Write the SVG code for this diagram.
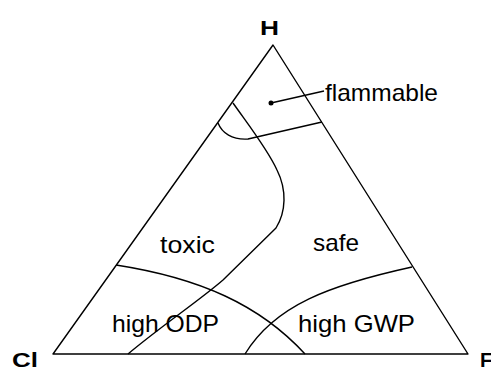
<svg xmlns="http://www.w3.org/2000/svg" width="491" height="374" viewBox="0 0 491 374">
<style>
.ln{fill:none;stroke:#000;stroke-width:1.4;stroke-linejoin:round}
.lbl{font-family:"Liberation Sans",Arial,sans-serif;font-size:24px;fill:#000}
.ax{font-family:"Liberation Sans",Arial,sans-serif;font-size:20px;font-weight:bold;fill:#000}
</style>
<rect width="491" height="374" fill="#fff"/>
<g id="triangle">
<path class="ln" d="M53,354 L273,45 L468,354 Z"/>
</g>
<g id="connectors">
<path class="ln" d="M218,123 C222,133 232,140 248,139 L322,122"/>
<path class="ln" d="M233,103 C250,127 268,150 277,170 C287,190 286,212 276,228 L223,280 C200,300 160,327 128,354"/>
<path class="ln" d="M116,265 C200,278 260,305 305,354"/>
<path class="ln" d="M412,267 C330,285 275,305 245,354"/>
<path class="ln" d="M271,103 L324,91"/>
<circle cx="271" cy="103" r="2.5" fill="#000"/>
</g>
<g id="H"><text class="ax" x="260" y="35" textLength="19" lengthAdjust="spacingAndGlyphs">H</text></g>
<g id="Cl"><text class="ax" x="12" y="367" textLength="26" lengthAdjust="spacingAndGlyphs">Cl</text></g>
<g id="F"><text class="ax" x="480" y="367">F</text></g>
<g id="flammable"><text class="lbl" x="325" y="101" textLength="113" lengthAdjust="spacingAndGlyphs">flammable</text></g>
<g id="toxic"><text class="lbl" x="160" y="253" textLength="55" lengthAdjust="spacingAndGlyphs">toxic</text></g>
<g id="safe"><text class="lbl" x="313" y="251" textLength="46" lengthAdjust="spacingAndGlyphs">safe</text></g>
<g id="highODP"><text class="lbl" x="112" y="332" textLength="107" lengthAdjust="spacingAndGlyphs">high ODP</text></g>
<g id="highGWP"><text class="lbl" x="298" y="332" textLength="117" lengthAdjust="spacingAndGlyphs">high GWP</text></g>
</svg>
